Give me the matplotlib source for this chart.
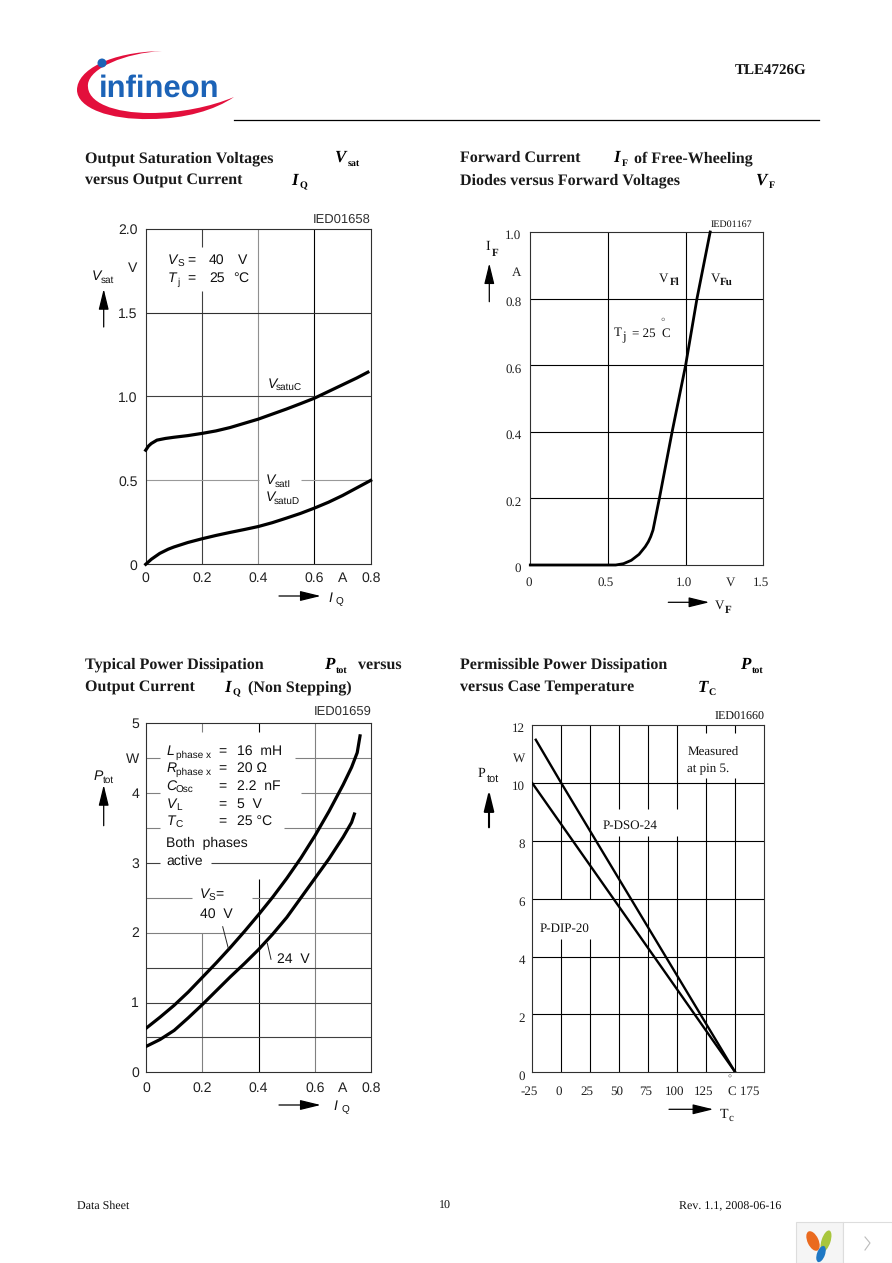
import matplotlib
matplotlib.use("Agg")
import matplotlib.pyplot as plt
from matplotlib.patches import Ellipse, PathPatch, Rectangle
from matplotlib.path import Path
from matplotlib.transforms import Affine2D

W, H = 892, 1263
SANS = "Liberation Sans"
SERIF = "Liberation Serif"
plt.rcParams["text.hinting"] = "no_hinting"
plt.rcParams["text.hinting_factor"] = 1

# chart 1: Vsat vs IQ
iq_upper = [0, 0.01, 0.02, 0.04, 0.07, 0.1, 0.15, 0.2, 0.25, 0.3, 0.35, 0.4, 0.45, 0.5, 0.55, 0.6, 0.65, 0.7, 0.75, 0.79]
vsat_upper = [0.68, 0.705, 0.72, 0.74, 0.75, 0.757, 0.767, 0.78, 0.795, 0.815, 0.84, 0.865, 0.895, 0.925, 0.957, 0.99, 1.03, 1.07, 1.11, 1.145]
iq_lower = [0, 0.02, 0.05, 0.08, 0.1, 0.15, 0.2, 0.25, 0.3, 0.35, 0.4, 0.45, 0.5, 0.55, 0.6, 0.65, 0.7, 0.75, 0.8]
vsat_lower = [0, 0.03, 0.065, 0.09, 0.103, 0.13, 0.152, 0.172, 0.19, 0.207, 0.225, 0.248, 0.275, 0.303, 0.335, 0.37, 0.41, 0.455, 0.50]
c1_xticks = [0, 0.2, 0.4, 0.6, 0.7, 0.8]
c1_xlabels = ["0", "0.2", "0.4", "0.6", "A", "0.8"]
c1_yticks = [0, 0.5, 1.0, 1.5, 1.77, 2.0]
c1_ylabels = ["0", "0.5", "1.0", "1.5", "V", "2.0"]

# chart 2: IF vs VF
vf = [0, 0.55, 0.6, 0.65, 0.7, 0.74, 0.76, 0.775, 0.79, 0.831, 0.913, 1.0, 1.073, 1.158]
if_a = [0, 0, 0.004, 0.014, 0.032, 0.055, 0.07, 0.085, 0.105, 0.2, 0.4, 0.6, 0.8, 1.0]
c2_xticks = [0, 0.5, 1.0, 1.3, 1.5]
c2_xlabels = ["0", "0.5", "1.0", "V", "1.5"]
c2_yticks = [0, 0.2, 0.4, 0.6, 0.8, 0.89, 1.0]
c2_ylabels = ["0", "0.2", "0.4", "0.6", "0.8", "A", "1.0"]

# chart 3: Ptot vs IQ
iq_40v = [0, 0.05, 0.1, 0.15, 0.2, 0.25, 0.3, 0.35, 0.4, 0.45, 0.5, 0.55, 0.6, 0.65, 0.7, 0.73, 0.75, 0.76]
ptot_40v = [0.63, 0.79, 0.96, 1.15, 1.36, 1.57, 1.79, 2.02, 2.26, 2.51, 2.78, 3.07, 3.39, 3.74, 4.12, 4.37, 4.58, 4.82]
iq_24v = [0, 0.05, 0.1, 0.15, 0.2, 0.25, 0.3, 0.35, 0.4, 0.45, 0.5, 0.55, 0.6, 0.65, 0.7, 0.73, 0.74]
ptot_24v = [0.37, 0.47, 0.6, 0.78, 0.97, 1.17, 1.37, 1.56, 1.76, 1.98, 2.22, 2.5, 2.78, 3.06, 3.37, 3.58, 3.7]
c3_xticks = [0, 0.2, 0.4, 0.6, 0.7, 0.8]
c3_xlabels = ["0", "0.2", "0.4", "0.6", "A", "0.8"]
c3_yticks = [0, 1, 2, 3, 4, 4.5, 5]
c3_ylabels = ["0", "1", "2", "3", "4", "W", "5"]

# chart 4: Ptot vs Tc
tc_dip = [-25, 150]
ptot_dip = [10, 0]
tc_dso = [-22, 0, 150]
ptot_dso = [11.5, 10, 0]
c4_xticks = [-25, 0, 25, 50, 75, 100, 125, 160]
c4_xlabels = ["-25", "0", "25", "50", "75", "100", "125", "C 175"]
c4_yticks = [0, 2, 4, 6, 8, 10, 11, 12]
c4_ylabels = ["0", "2", "4", "6", "8", "10", "W", "12"]


def make_axes(fig, left, top, right, bottom, xlim, ylim):
    ax = fig.add_axes([left / W, 1 - bottom / H, (right - left) / W, (bottom - top) / H])
    ax.set_xlim(xlim)
    ax.set_ylim(ylim)
    for sp in ax.spines.values():
        sp.set_linewidth(0.8)
        sp.set_color("#303030")
    return ax


def set_ticks(ax, xt, xl, yt, yl, font, size, xdrop, xshift, ydrop, yright):
    # labels sit a few px off the ticks in the original, so shift them by hand
    ax.set_xticks(xt, xl, family=font, fontsize=size, color="#202020")
    ax.set_yticks(yt, yl, family=font, fontsize=size, color="#202020")
    ax.tick_params(length=0, pad=0)
    for lab in ax.get_xticklabels():
        lab.set_verticalalignment("center")
        lab.set_transform(lab.get_transform() + Affine2D().translate(xshift, -xdrop))
    for lab in ax.get_yticklabels():
        lab.set_verticalalignment("center")
        lab.set_transform(lab.get_transform() + Affine2D().translate(-yright, -ydrop))


def grid(ax, vs, hs, vcol, hcol):
    for x, c in zip(vs, vcol):
        ax.axvline(x, color=c, lw=0.8, zorder=1)
    for y, c in zip(hs, hcol):
        ax.axhline(y, color=c, lw=0.8, zorder=1.2)


def gap_v(ax, x, y0, y1):
    ax.plot([x, x], [y0, y1], color="white", lw=2.5, zorder=1.1, solid_capstyle="butt")


def gap_h(ax, y, x0, x1):
    ax.plot([x0, x1], [y, y], color="white", lw=2.5, zorder=1.3, solid_capstyle="butt")


fig = plt.figure(figsize=(W / 100, H / 100), dpi=100, facecolor="white")

# ---- chart 1
ax1 = make_axes(fig, 145.7, 228.7, 370.7, 564.3, (0, 0.8), (0, 2))
grid(ax1, [0.2, 0.4, 0.6], [0.5, 1.0, 1.5], ["#404040", "#909090", "#000000"], ["#999999", "#404040", "#303030"])
gap_v(ax1, 0.2, 1.63, 1.89)
gap_h(ax1, 0.5, 0.404, 0.551)
ax1.plot(iq_upper, vsat_upper, color="black", lw=2.3, zorder=3, clip_on=False)
ax1.plot(iq_lower, vsat_lower, color="black", lw=2.3, zorder=3, clip_on=False)
set_ticks(ax1, c1_xticks, c1_xlabels, c1_yticks, c1_ylabels, SANS, 10.3, 14, 0, 1.5, 8)

# ---- chart 2
ax2 = make_axes(fig, 530.3, 232, 763.3, 565, (0, 1.5), (0, 1))
grid(ax2, [0.5, 1.0], [0.2, 0.4, 0.6, 0.8], ["black"] * 2, ["black"] * 4)
ax2.plot(vf, if_a, color="black", lw=2.0, zorder=3, clip_on=False)
set_ticks(ax2, c2_xticks, c2_xlabels, c2_yticks, c2_ylabels, SERIF, 9, 17.5, -2, 4, 9)

# ---- chart 3
ax3 = make_axes(fig, 146, 723.3, 371.3, 1072.3, (0, 0.8), (0, 5))
grid(ax3, [0.2, 0.4, 0.6], [0.5, 1, 1.5, 2, 2.5, 3, 3.5, 4, 4.5],
     ["#808080", "#000000", "#808080"],
     ["#404040", "#404040", "#404040", "#808080", "#808080", "#404040", "#808080", "#808080", "#808080"])
gap_v(ax3, 0.2, 2.0, 4.88)
gap_v(ax3, 0.4, 2.77, 4.88)
gap_h(ax3, 4.5, 0.05, 0.53)
gap_h(ax3, 4.0, 0.05, 0.55)
gap_h(ax3, 3.5, 0.05, 0.49)
gap_h(ax3, 3.0, 0.05, 0.23)
gap_h(ax3, 2.5, 0.165, 0.375)
ax3.plot(iq_40v, ptot_40v, color="black", lw=2.3, zorder=3)
ax3.plot(iq_24v, ptot_24v, color="black", lw=2.3, zorder=3)
set_ticks(ax3, c3_xticks, c3_xlabels, c3_yticks, c3_ylabels, SANS, 10.3, 16, 0, 1, 7)

# ---- chart 4
ax4 = make_axes(fig, 532.3, 725.3, 764.3, 1072.3, (-25, 175), (0, 12))
grid(ax4, [0, 25, 50, 75, 100, 125, 150], [2, 4, 6, 8, 10], ["black"] * 7, ["black"] * 5)
for x in [125, 150]:
    gap_v(ax4, x, 10.17, 11.72)
for x in [50, 75, 100]:
    gap_v(ax4, x, 8.17, 9.09)
for x in [0, 25]:
    gap_v(ax4, x, 4.6, 6)
ax4.plot(tc_dip, ptot_dip, color="black", lw=1.7, zorder=3)
ax4.plot(tc_dso, ptot_dso, color="black", lw=1.7, zorder=3)
set_ticks(ax4, c4_xticks, c4_xlabels, c4_yticks, c4_ylabels, SERIF, 9, 19.5, -3, 4, 7)

# ---- page overlay in pixel coordinates
page = fig.add_axes([0, 0, 1, 1], zorder=5)
page.set_xlim(0, W)
page.set_ylim(H, 0)
page.axis("off")


def txt(x, y, s, font=SERIF, size=9, **kw):
    kw.setdefault("color", "#111111")
    kw.setdefault("va", "baseline")
    page.text(x, y, s, family=font, fontsize=size, **kw)


def title(x, y, s):
    txt(x, y, s, size=11.3, weight="bold", color="#1a1a1a")


def symbol(x, y, s, subx, sub):
    txt(x, y, s, size=12, weight="bold", style="italic", color="black")
    txt(subx, y + 3.5, sub, size=7.5, weight="bold", color="black")


def arrow(x0, y0, x1, y1, lw=0.9):
    page.annotate("", xy=(x1, y1), xytext=(x0, y0),
                  arrowprops=dict(arrowstyle="-|>,head_length=0.9,head_width=0.22", lw=lw, color="black",
                                  shrinkA=0, shrinkB=0, mutation_scale=14))


def sans_sym(x, y, s, subx, sub):
    txt(x, y, s, SANS, 10, style="italic")
    txt(subx + 1, y + 2.5, sub, SANS, 7.5)


# logo
swoosh = [(162, 51), (110, 52), (77, 70), (77, 90), (77, 108), (110, 120), (150, 119), (185, 119), (215, 110), (234, 97),
          (210, 107), (180, 113), (150, 113), (115, 113), (86, 103), (88, 84), (90, 68), (125, 53), (162, 51)]
codes = [Path.MOVETO] + [Path.CURVE4] * 18
page.add_patch(PathPatch(Path(swoosh, codes), facecolor="#e30f3c", edgecolor="none"))
txt(99, 97, "infineon", SANS, 22.5, weight="bold", color="#1c63b7")
page.add_patch(Ellipse((102, 63), 9, 9, facecolor="#1c63b7", edgecolor="none", zorder=6))

txt(806, 75, "TLE4726G", size=11, weight="bold", ha="right")
page.plot([234, 819], [119.5, 119.5], color="black", lw=0.9)

# titles
title(85, 162, "Output Saturation Voltages")
title(85, 185, "versus Output Current")
symbol(335.5, 162, "V", 348, "sat")
symbol(291.5, 185, "I", 300, "Q")
title(460, 162, "Forward Current")
symbol(613, 162, "I", 621.5, "F")
title(634, 162, "of Free-Wheeling")
title(460, 184.5, "Diodes versus Forward Voltages")
symbol(756, 184.5, "V", 769, "F")
title(85, 669, "Typical Power Dissipation")
symbol(324, 669, "P", 335.5, "tot")
title(358, 669, "versus")
title(85, 691.5, "Output Current")
symbol(224, 691.5, "I", 233, "Q")
title(248, 691.5, "(Non Stepping)")
title(460, 669, "Permissible Power Dissipation")
symbol(740, 669, "P", 751.5, "tot")
title(460, 691.5, "versus Case Temperature")
symbol(698, 691.5, "T", 709, "C")

# chart 1 labels
txt(371, 223, "IED01658", SANS, 9, ha="right", color="#303030")
sans_sym(168, 264, "V", 176.7, "S")
txt(187.5, 264, "=", SANS, 10)
txt(209, 264, "40", SANS, 10)
txt(238, 264, "V", SANS, 10)
sans_sym(168, 282, "T", 176.7, "j")
txt(187.5, 282, "=", SANS, 10)
txt(209, 282, "25", SANS, 10)
txt(233, 282, "°", SANS, 10)
txt(238, 282, "C", SANS, 10)
sans_sym(91.5, 280, "V", 99.3, "sat")
arrow(103.7, 327, 103.7, 289)
sans_sym(267.3, 388.5, "V", 275, "satuC")
sans_sym(265.7, 484.5, "V", 273.3, "satI")
sans_sym(265.7, 501, "V", 273, "satuD")
arrow(279, 596, 320.7, 596)
sans_sym(328.3, 601.5, "I", 335, "Q")

# chart 2 labels
txt(752.5, 227, "IED01167", size=7, ha="right")
txt(485, 250, "I", size=10)
txt(491.5, 256, "F", size=8, weight="bold")
arrow(489.3, 301.7, 489.3, 263.3)
txt(659, 281.5, "V", size=9)
txt(670, 285, "Fl", size=8, weight="bold")
txt(710.5, 281.5, "V", size=9)
txt(720, 285, "Fu", size=8, weight="bold")
txt(614, 336.5, "T", size=9.5)
txt(622.5, 340, "j", size=9)
txt(632.5, 336.5, "= 25", size=9)
txt(661, 336.5, "C", size=9.5)
txt(660, 325, "°", size=8, color="#555555")
arrow(668.3, 602.3, 709.3, 602.3)
txt(715, 608.3, "V", size=9)
txt(725, 613.3, "F", size=8, weight="bold")

# chart 3 labels
txt(372, 715, "IED01659", SANS, 9, ha="right", color="#303030")
rows_y = [755, 772, 790, 808, 825]
rows_sym = ["L", "R", "C", "V", "T"]
rows_sub = ["phase x", "phase x", "Osc", "L", "C"]
rows_val = ["16  mH", "20 Ω", "2.2  nF", "5  V", "25 °C"]
for y, s, sub, val in zip(rows_y, rows_sym, rows_sub, rows_val):
    sans_sym(166.7, y, s, 174.7, sub)
    txt(218, y, "=", SANS, 10)
    txt(236.7, y, val, SANS, 10)
txt(166, 847, "Both  phases", SANS, 10)
txt(166, 865, "active", SANS, 10)
sans_sym(200, 898.3, "V", 207.7, "S")
txt(215, 898.3, "=", SANS, 10)
txt(200, 917.7, "40  V", SANS, 10)
txt(276.7, 963.3, "24  V", SANS, 10)
page.plot([222.7, 228.3], [926.7, 948.3], color="#222222", lw=0.7)
page.plot([267.3, 271], [943.3, 959.3], color="#222222", lw=0.7)
sans_sym(93.3, 780.5, "P", 102.3, "tot")
arrow(103.7, 825.7, 103.7, 785)
arrow(279, 1105, 320.7, 1105)
sans_sym(333.3, 1110, "I", 340.7, "Q")

# chart 4 labels
txt(765, 720, "IED01660", size=8.5, ha="right")
txt(477.3, 777.3, "P", size=10)
txt(486.7, 781.5, "tot", SANS, 8)
arrow(489, 827.3, 489, 790, lw=1.5)
txt(687.3, 755, "Measured", size=9)
txt(687.3, 772.7, "at pin 5.", size=9)
txt(602.7, 829.3, "P-DSO-24", size=9)
txt(540, 931.7, "P-DIP-20", size=9)
txt(727.5, 1082, "°", size=7, color="#555555")
arrow(669, 1109.3, 713.3, 1109.3)
txt(719.3, 1118.3, "T", size=10)
txt(728.3, 1120.5, "c", size=8)

# footer
txt(77, 1209, "Data Sheet", size=8.5)
txt(445, 1209, "10", size=8.5, ha="center")
txt(781, 1209, "Rev. 1.1, 2008-06-16", size=8.5, ha="right")

# corner widget
page.add_patch(Rectangle((796, 1222), 47, 41, facecolor="#f5f5f5", edgecolor="#dddddd", lw=0.8))
page.add_patch(Rectangle((843, 1222), 49, 41, facecolor="white", edgecolor="#dddddd", lw=0.8))
page.add_patch(Ellipse((813, 1241), 11, 21, angle=-25, facecolor="#ea6a1f", edgecolor="none"))
page.add_patch(Ellipse((826, 1241), 9, 22, angle=18, facecolor="#a8c63c", edgecolor="none"))
page.add_patch(Ellipse((821, 1254), 8, 17, angle=20, facecolor="#1f78c4", edgecolor="none"))
page.plot([865, 870, 865], [1237, 1243, 1250], color="#bbbbbb", lw=0.8)

fig.savefig("out.png", dpi=100)
